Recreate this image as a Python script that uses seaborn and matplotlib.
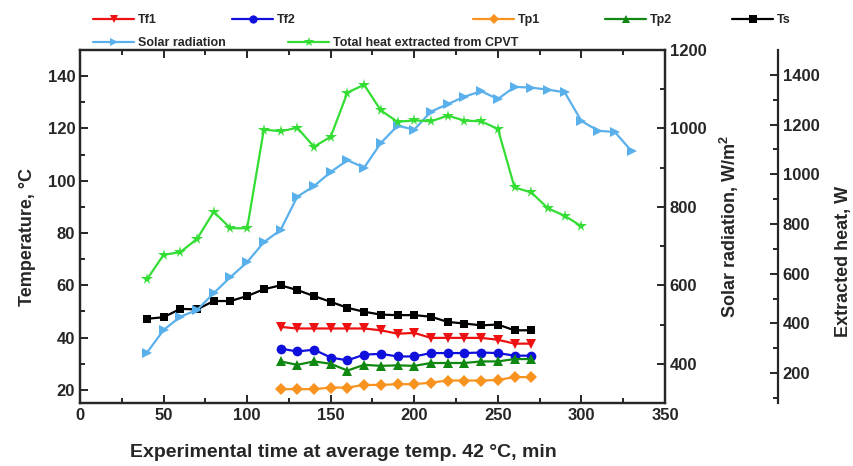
import matplotlib
matplotlib.use("Agg")
import matplotlib.pyplot as plt
import seaborn as sns
import numpy as np

sns.set_style("ticks")
plt.rcParams['font.family'] = ['Liberation Sans', 'DejaVu Sans']
plt.rcParams['font.weight'] = 'bold'
plt.rcParams['mathtext.default'] = 'regular'

# ---- data ----
t_solar = [40, 50, 60, 70, 80, 90, 100, 110, 120, 130, 140, 150, 160, 170, 180, 190,
           200, 210, 220, 230, 240, 250, 260, 270, 280, 290, 300, 310, 320, 330]
solar = [428, 486, 520, 537, 580, 621, 659, 710, 741, 826, 853, 889, 919, 900, 963, 1007,
         997, 1043, 1062, 1081, 1095, 1075, 1106, 1104, 1099, 1092, 1019, 994, 991, 942]

t_heat = [40, 50, 60, 70, 80, 90, 100, 110, 120, 130, 140, 150, 160, 170, 180, 190,
          200, 210, 220, 230, 240, 250, 260, 270, 280, 290, 300]
heat = [577, 676, 687, 740, 849, 783, 783, 1180, 1173, 1187, 1111, 1151, 1329, 1360, 1257, 1211,
        1217, 1213, 1236, 1216, 1213, 1183, 947, 927, 863, 833, 791]

t_ts = [40, 50, 60, 70, 80, 90, 100, 110, 120, 130, 140, 150, 160, 170, 180, 190,
        200, 210, 220, 230, 240, 250, 260, 270]
ts = [47.2, 47.8, 51.0, 50.8, 54.0, 54.0, 55.9, 58.5, 60.0, 58.2, 55.9, 53.7, 51.4, 49.9, 48.8, 48.6,
      48.6, 48.0, 46.0, 45.4, 44.7, 45.0, 42.8, 42.8]

t_p = [120, 130, 140, 150, 160, 170, 180, 190, 200, 210, 220, 230, 240, 250, 260, 270]
tf1 = [44.1, 43.5, 43.5, 43.5, 43.5, 43.5, 42.8, 41.5, 41.8, 39.9, 39.9, 39.9, 39.9, 39.2, 37.7, 37.7]
tf2 = [35.8, 34.7, 35.4, 32.4, 31.3, 33.5, 33.8, 32.8, 32.8, 34.1, 34.1, 34.1, 34.3, 34.1, 33.1, 33.1]
tp2 = [30.9, 29.6, 30.9, 30.0, 27.4, 29.6, 29.2, 29.4, 29.2, 30.3, 30.3, 30.3, 30.9, 30.9, 31.8, 31.8]
tp1 = [20.3, 20.3, 20.3, 20.9, 20.9, 21.9, 21.9, 22.2, 22.2, 22.8, 23.6, 23.6, 23.6, 23.8, 24.9, 24.9]

# ---- figure ----
W, H = 854, 466
fig = plt.figure(figsize=(W / 100, H / 100), dpi=100)
L, R, T, B = 80, 665, 50, 403
ax = fig.add_axes([L / W, 1 - B / H, (R - L) / W, (B - T) / H])
ax2 = ax.twinx()
ax3 = ax.twinx()
ax3.spines['right'].set_position(('axes', (778 - L) / (R - L)))

handles = {}
def draw(a, x, y, marker, color, label, ms=7):
    sns.lineplot(x=x, y=y, ax=a, marker=marker, color=color, markersize=ms,
                 markeredgewidth=0, linewidth=1.6, legend=False)
    handles[label] = a.get_lines()[-1]

draw(ax, t_p, tf1, 'v', '#ee1111', 'Tf1')
draw(ax, t_p, tf2, 'o', '#1010dd', 'Tf2')
draw(ax, t_p, tp1, 'D', '#f7931e', 'Tp1', ms=6)
draw(ax, t_p, tp2, '^', '#118811', 'Tp2')
draw(ax, t_ts, ts, 's', '#000000', 'Ts', ms=6)
draw(ax2, t_solar, solar, '>', '#5ab0ea', 'Solar radiation')
draw(ax3, t_heat, heat, '*', '#33dd33', 'Total heat extracted from CPVT', ms=8.5)

ax.set_xlim(0, 350)
ax.set_ylim(15, 150)
ax2.set_ylim(300, 1200)
ax3.set_ylim(80, 1500)

ax.set_xticks(np.arange(0, 351, 50))
ax.set_xticks(np.arange(25, 351, 50), minor=True)
ax.set_yticks(np.arange(20, 141, 20))
ax.set_yticks(np.arange(30, 150, 20), minor=True)
ax2.set_yticks(np.arange(400, 1201, 200))
ax2.set_yticks(np.arange(500, 1200, 200), minor=True)
ax3.set_yticks(np.arange(200, 1401, 200))
ax3.set_yticks(np.arange(100, 1500, 200), minor=True)

for a in (ax, ax2, ax3):
    for s in a.spines.values():
        s.set_linewidth(1.6)
    a.tick_params(which='both', direction='in', width=1.4, labelsize=12)
    a.tick_params(which='major', length=6)
    a.tick_params(which='minor', length=3.5)
    for lab in a.get_yticklabels() + a.get_xticklabels():
        lab.set_fontweight('bold')

ax.tick_params(axis='x', which='both', top=True)
ax3.spines['top'].set_visible(False)
ax3.spines['left'].set_visible(False)
ax3.spines['bottom'].set_visible(False)

ax.set_xlabel('Experimental time at average temp. 42 \u00b0C, min', fontsize=14,
              fontweight='bold', labelpad=15)
ax.xaxis.label.set_x(0.45)
ax.set_ylabel('Temperature, \u00b0C', fontsize=13, fontweight='bold', labelpad=8)
ax2.set_ylabel('Solar radiation, W/m$^2$', fontsize=13, fontweight='bold', labelpad=8)
ax3.set_ylabel('Extracted heat, W', fontsize=13, fontweight='bold', labelpad=11)
ax.yaxis.label.set_y(0.47)
ax3.yaxis.label.set_y(0.40)

# ---- legend items placed like the reference ----
leg_pos = {
    'Tf1': (93, 20), 'Tf2': (232, 20), 'Tp1': (473, 20), 'Tp2': (605, 20), 'Ts': (732, 20),
    'Solar radiation': (93, 43), 'Total heat extracted from CPVT': (288, 43),
}
for name, (px, py) in leg_pos.items():
    fig.legend([handles[name]], [name], loc='center left',
               bbox_to_anchor=(px / W, 1 - py / H), frameon=False,
               borderpad=0, borderaxespad=0, handlelength=3.3, handletextpad=0.3,
               markerscale=0.85, prop={'size': 9, 'weight': 'bold'})

fig.savefig('out.png', dpi=100)
